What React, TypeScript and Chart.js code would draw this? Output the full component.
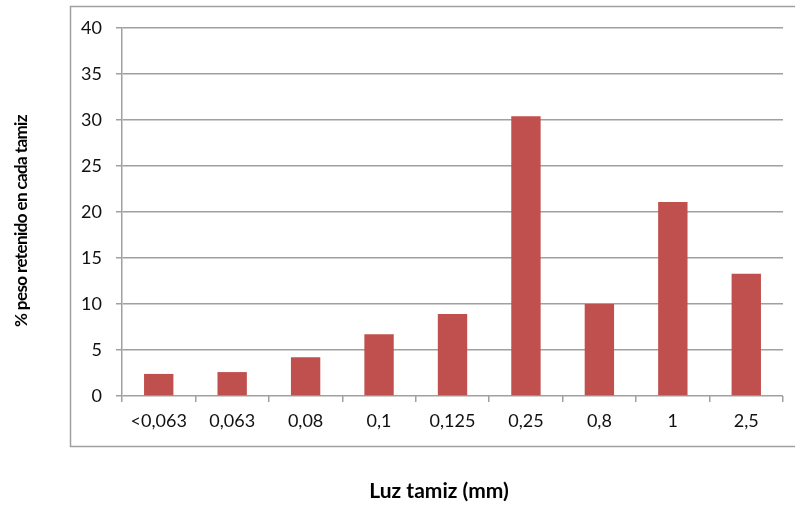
import React, { useEffect, useRef } from "react";
import { Chart, registerables } from "chart.js";

Chart.register(...registerables);

// Sieve openings (mm) and percent weight retained on each sieve
const sieveLabels: string[] = ["<0,063", "0,063", "0,08", "0,1", "0,125", "0,25", "0,8", "1", "2,5"];
const retainedPct: number[] = [2.4, 2.6, 4.2, 6.7, 8.9, 30.4, 10.0, 21.1, 13.3];

const yMin = 0;
const yMax = 40;
const yStep = 5;

const xTitle = "Luz tamiz (mm)";
const yTitle = "% peso retenido en cada tamiz";

const W = 795;
const H = 508;

const FONT = "Lato, 'Open Sans', sans-serif";

// Outer frame and axis titles drawn around the plot
const framePlugin = {
  id: "frameAndTitles",
  beforeDraw(chart: Chart) {
    const ctx = chart.ctx;
    ctx.save();
    ctx.fillStyle = "#ffffff";
    ctx.fillRect(0, 0, W, H);
    ctx.strokeStyle = "#a0a0a0";
    ctx.lineWidth = 1.5;
    ctx.strokeRect(70.5, 6.5, W + 10, 440);
    ctx.restore();
  },
  afterDraw(chart: Chart) {
    const ctx = chart.ctx as any;
    ctx.save();
    ctx.fillStyle = "#000000";
    ctx.textAlign = "center";
    ctx.textBaseline = "middle";
    ctx.font = `bold 21px ${FONT}`;
    ctx.fillText(xTitle, 439, 491);
    ctx.font = `bold 17px ${FONT}`;
    ctx.letterSpacing = "-0.6px";
    ctx.translate(22, 221);
    ctx.rotate(-Math.PI / 2);
    ctx.fillText(yTitle, 0, 0);
    ctx.restore();
  },
};

export default function App() {
  const ref = useRef<HTMLCanvasElement | null>(null);

  useEffect(() => {
    if (!ref.current) return;
    const chart = new Chart(ref.current, {
      type: "bar",
      data: {
        labels: sieveLabels,
        datasets: [
          {
            data: retainedPct,
            backgroundColor: "#c0504d",
            borderWidth: 0,
            categoryPercentage: 1,
            barPercentage: 0.4,
          },
        ],
      },
      plugins: [framePlugin],
      options: {
        responsive: false,
        animation: false,
        layout: { padding: { left: 0, top: 28, right: 12, bottom: 0 } },
        plugins: {
          legend: { display: false },
          tooltip: { enabled: false },
        },
        scales: {
          x: {
            grid: {
              offset: true,
              drawOnChartArea: false,
              drawTicks: true,
              tickLength: 6,
              color: "#a0a0a0",
              lineWidth: 1.5,
            },
            border: { display: false },
            ticks: {
              color: "#111111",
              font: { family: FONT, size: 18 },
              padding: 8,
              maxRotation: 0,
              autoSkip: false,
            },
            afterFit: (scale: any) => {
              scale.height = H - 396;
            },
          },
          y: {
            min: yMin,
            max: yMax,
            grid: {
              color: "#a0a0a0",
              lineWidth: 1.5,
              tickLength: 6,
              drawTicks: true,
            },
            border: { display: true, color: "#a0a0a0", width: 1.5 },
            ticks: {
              stepSize: yStep,
              color: "#111111",
              font: { family: FONT, size: 18 },
              padding: 14,
            },
            afterFit: (scale: any) => {
              scale.width = 122;
            },
          },
        },
      },
    });
    return () => chart.destroy();
  }, []);

  return (
    <div style={{ position: "absolute", left: 0, top: 0, width: W, height: H, background: "#fff" }}>
      <canvas ref={ref} width={W} height={H} style={{ display: "block" }} />
    </div>
  );
}
